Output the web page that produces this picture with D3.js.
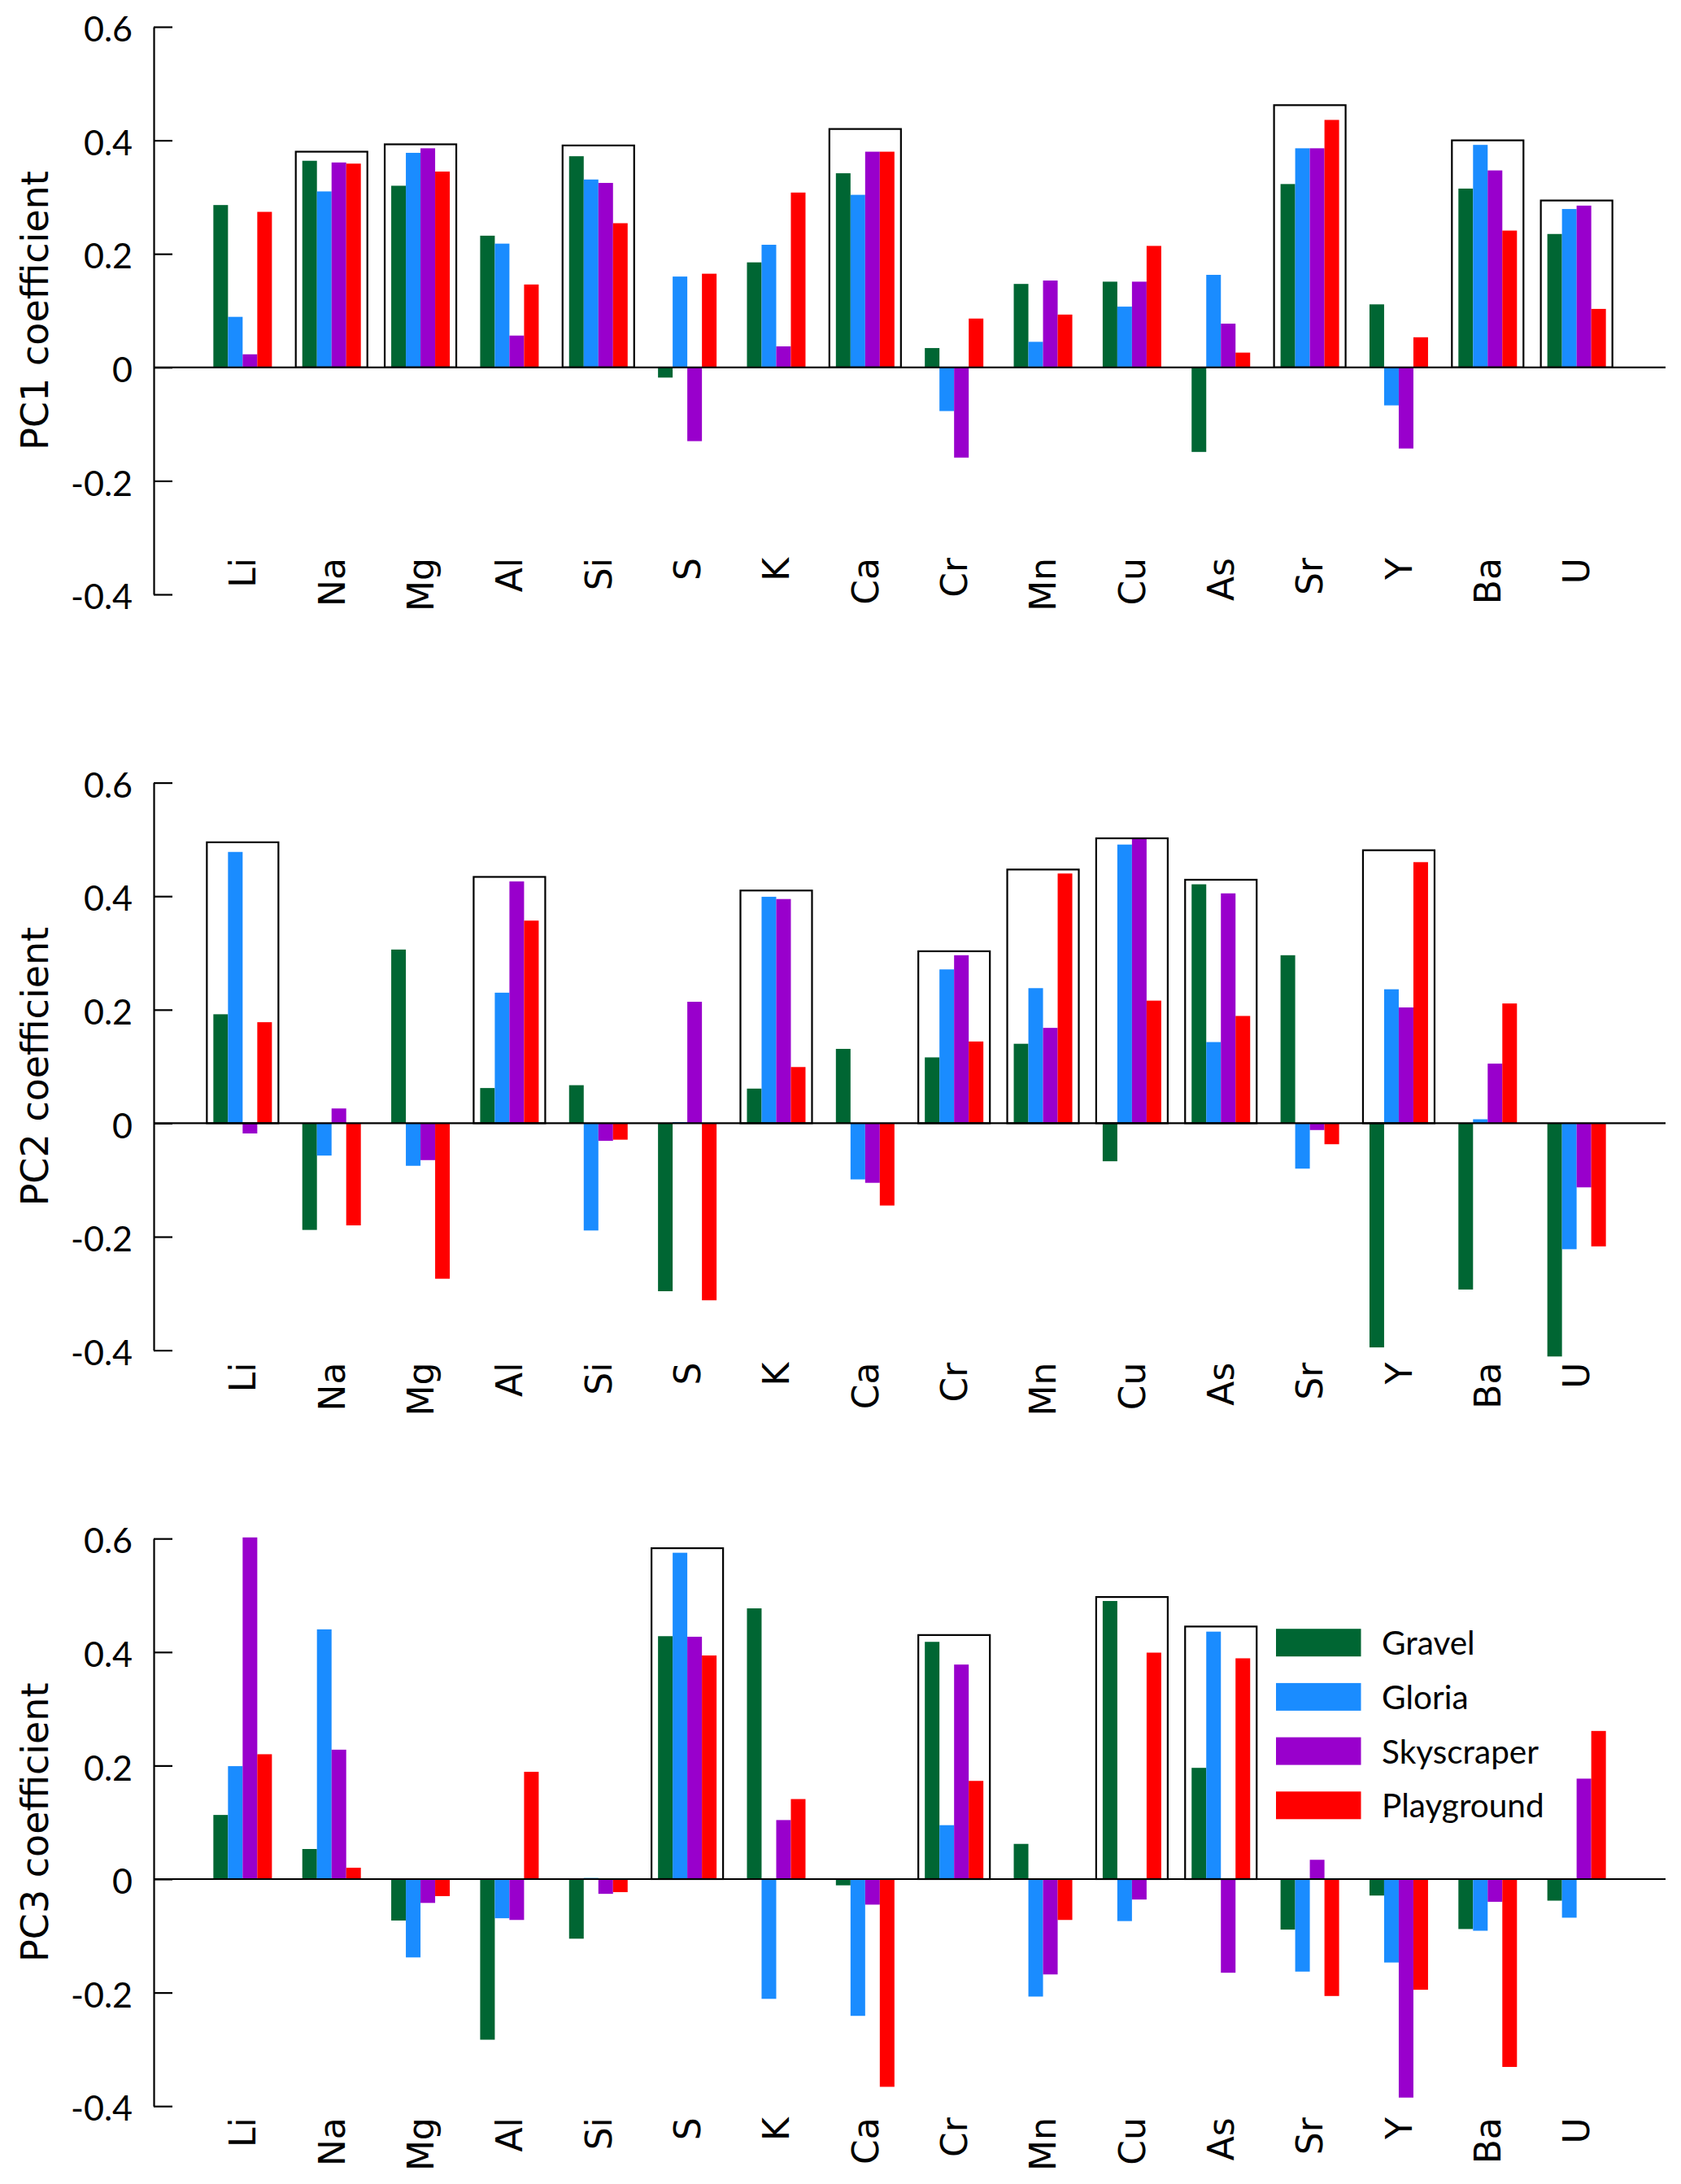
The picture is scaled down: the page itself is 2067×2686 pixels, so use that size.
<!DOCTYPE html>
<html>
<head>
<meta charset="utf-8">
<script src="https://cdn.jsdelivr.net/npm/d3@7"></script>
<style>
  html, body { margin: 0; padding: 0; background: #ffffff; }
  svg { display: block; }
</style>
</head>
<body>
<script>
// ---------------- DATA ----------------
const categories = ["Li","Na","Mg","Al","Si","S","K","Ca","Cr","Mn","Cu","As","Sr","Y","Ba","U"];
const seriesNames = ["Gravel","Gloria","Skyscraper","Playground"];
const seriesColors = ["#006633","#1a8cff","#9900cc","#ff0000"];
const yTickValues = [0.6, 0.4, 0.2, 0, -0.2, -0.4];
const yTickLabels = ["0.6","0.4","0.2","0","-0.2","-0.4"];
const panelTitles = ["PC1 coefficient","PC2 coefficient","PC3 coefficient"];

// PC1
const pc1Gravel     = [0.286,0.364,0.320,0.232,0.372,-0.018,0.185,0.342,0.034,0.147,0.151,-0.149,0.323,0.111,0.315,0.235];
const pc1Gloria     = [0.089,0.310,0.378,0.218,0.331,0.160,0.216,0.304,-0.077,0.045,0.107,0.163,0.386,-0.067,0.392,0.279];
const pc1Skyscraper = [0.023,0.361,0.386,0.056,0.325,-0.130,0.037,0.380,-0.159,0.153,0.151,0.077,0.386,-0.143,0.347,0.285];
const pc1Playground = [0.274,0.359,0.345,0.146,0.254,0.165,0.308,0.380,0.086,0.093,0.214,0.026,0.436,0.053,0.241,0.103];
const pc1BoxCats = ["Na","Mg","Si","Ca","Sr","Ba","U"];
const pc1BoxTops = [0.380,0.393,0.391,0.420,0.462,0.400,0.294];

// PC2
const pc2Gravel     = [0.192,-0.188,0.306,0.062,0.067,-0.296,0.061,0.131,0.116,0.140,-0.067,0.421,0.296,-0.395,-0.293,-0.411];
const pc2Gloria     = [0.478,-0.057,-0.075,0.230,-0.189,0.002,0.399,-0.099,0.271,0.238,0.491,0.143,-0.080,0.236,0.007,-0.222];
const pc2Skyscraper = [-0.018,0.026,-0.065,0.426,-0.031,0.214,0.395,-0.105,0.296,0.168,0.501,0.405,-0.012,0.204,0.105,-0.113];
const pc2Playground = [0.178,-0.180,-0.274,0.357,-0.029,-0.312,0.099,-0.145,0.144,0.440,0.216,0.189,-0.037,0.460,0.211,-0.217];
const pc2BoxCats = ["Li","Al","K","Cr","Mn","Cu","As","Y"];
const pc2BoxTops = [0.495,0.434,0.410,0.303,0.447,0.502,0.429,0.481];

// PC3
const pc3Gravel     = [0.113,0.053,-0.073,-0.283,-0.105,0.428,0.477,-0.011,0.418,0.062,0.490,0.196,-0.089,-0.029,-0.088,-0.038];
const pc3Gloria     = [0.199,0.440,-0.138,-0.069,0.002,0.575,-0.211,-0.241,0.095,-0.207,-0.074,0.436,-0.163,-0.147,-0.091,-0.068];
const pc3Skyscraper = [0.602,0.228,-0.042,-0.072,-0.026,0.427,0.104,-0.045,0.378,-0.168,-0.036,-0.165,0.034,-0.385,-0.040,0.177];
const pc3Playground = [0.220,0.020,-0.030,0.189,-0.023,0.394,0.141,-0.366,0.173,-0.072,0.399,0.389,-0.206,-0.195,-0.331,0.261];
const pc3BoxCats = ["S","Cr","Cu","As"];
const pc3BoxTops = [0.583,0.430,0.497,0.445];

const panels = [
  { title: panelTitles[0], series: [pc1Gravel, pc1Gloria, pc1Skyscraper, pc1Playground], boxCats: pc1BoxCats, boxTops: pc1BoxTops, legend: false, labelTop: 653 },
  { title: panelTitles[1], series: [pc2Gravel, pc2Gloria, pc2Skyscraper, pc2Playground], boxCats: pc2BoxCats, boxTops: pc2BoxTops, legend: false, labelTop: 713 },
  { title: panelTitles[2], series: [pc3Gravel, pc3Gloria, pc3Skyscraper, pc3Playground], boxCats: pc3BoxCats, boxTops: pc3BoxTops, legend: true, labelTop: 712 }
];

// ---------------- LAYOUT ----------------
const W = 2067, H = 2686;
const axisX = 189, axisEnd = 2048;
const panelTop0 = 33, panelPitch = 929.6, panelH = 698;
const barW = 18, boxPad = 8;
const labelFont = "'DejaVu Sans', Verdana, sans-serif";
const tickFont = "Lato, 'Open Sans', sans-serif";

const svg = d3.select("body").append("svg")
  .attr("width", W).attr("height", H)
  .attr("viewBox", `0 0 ${W} ${H}`);
svg.append("rect").attr("width", W).attr("height", H).attr("fill", "#ffffff");

const x = d3.scalePoint().domain(categories).range([axisX, axisEnd]).padding(1);
const sub = d3.scaleBand().domain(seriesNames).range([-2 * barW, 2 * barW]).padding(0);

panels.forEach((p, pi) => {
  const top = panelTop0 + pi * panelPitch;
  const y = d3.scaleLinear().domain([-0.4, 0.6]).range([top + panelH, top]);
  const g = svg.append("g");

  // bars
  seriesNames.forEach((s, si) => {
    g.append("g").selectAll("rect")
      .data(categories.map((c, ci) => ({ c, v: p.series[si][ci] })))
      .join("rect")
      .attr("x", d => x(d.c) + sub(s))
      .attr("width", sub.bandwidth())
      .attr("y", d => y(Math.max(0, d.v)))
      .attr("height", d => Math.abs(y(d.v) - y(0)))
      .attr("fill", seriesColors[si]);
  });

  // highlight boxes
  g.append("g").selectAll("rect")
    .data(p.boxCats.map((c, i) => ({ c, t: p.boxTops[i] })))
    .join("rect")
    .attr("x", d => x(d.c) + sub.range()[0] - boxPad)
    .attr("width", sub.range()[1] - sub.range()[0] + 2 * boxPad)
    .attr("y", d => y(d.t))
    .attr("height", d => y(0) - y(d.t))
    .attr("fill", "none")
    .attr("stroke", "#000")
    .attr("stroke-width", 2.2);

  // zero line
  g.append("line")
    .attr("x1", axisX).attr("x2", axisEnd)
    .attr("y1", y(0)).attr("y2", y(0))
    .attr("stroke", "#000").attr("stroke-width", 2.2);

  // y axis
  const ax = g.append("g")
    .attr("transform", `translate(${axisX},0)`)
    .call(d3.axisLeft(y)
      .tickValues(yTickValues)
      .tickFormat((d, i) => yTickLabels[i])
      .tickSizeInner(-23)
      .tickSizeOuter(0)
      .tickPadding(26));
  ax.select(".domain").attr("stroke", "#000").attr("stroke-width", 2.2);
  ax.selectAll(".tick line").attr("stroke", "#000").attr("stroke-width", 2.2);
  ax.selectAll(".tick text")
    .attr("fill", "#000")
    .attr("font-family", tickFont)
    .attr("font-size", 43)
    .attr("dy", "0.41em");

  // category labels
  g.append("g").selectAll("text")
    .data(categories)
    .join("text")
    .attr("transform", d => `translate(${x(d)},${top + p.labelTop}) rotate(-90)`)
    .attr("text-anchor", "end")
    .attr("dy", "0.36em")
    .attr("font-family", labelFont)
    .attr("font-size", 44)
    .attr("fill", "#000")
    .text(d => d);

  // y title
  g.append("text")
    .attr("transform", `translate(59,${top + panelH / 2}) rotate(-90)`)
    .attr("text-anchor", "middle")
    .attr("font-family", labelFont)
    .attr("font-size", 46)
    .attr("fill", "#000")
    .text(p.title);

  // legend
  if (p.legend) {
    const lg = g.append("g").attr("transform", `translate(1569,${top + 111})`);
    const rows = lg.selectAll("g").data(seriesNames).join("g")
      .attr("transform", (d, i) => `translate(0,${i * 66.7})`);
    rows.append("rect")
      .attr("width", 104.5).attr("height", 34)
      .attr("fill", (d, i) => seriesColors[i]);
    rows.append("text")
      .attr("x", 130).attr("y", 32)
      .attr("font-family", tickFont)
      .attr("font-size", 40.5)
      .attr("fill", "#000")
      .text(d => d);
  }
});
</script>
</body>
</html>
